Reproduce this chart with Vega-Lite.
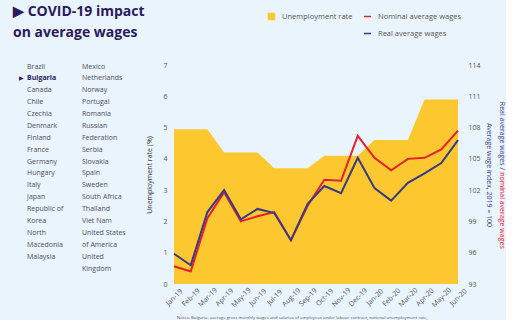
{
  "$schema": "https://vega.github.io/schema/vega-lite/v6.json",
  "background": "#eaf4fd",
  "padding": {"left": 13, "top": 4, "right": 0, "bottom": 0},
  "bounds": "flush",
  "spacing": 92,
  "config": {"view": {"stroke": null}, "font": "Open Sans"},
  "resolve": {"legend": {"fill": "independent", "stroke": "independent"}},
  "hconcat": [
    {
      "width": 55,
      "height": 202,
      "title": {"text": ["▶ COVID-19 impact", "on average wages"], "anchor": "start", "frame": "group", "dx": -14, "fontSize": 14, "fontWeight": "bold", "color": "#2b1b5c", "lineHeight": 21, "offset": 23},
      "data": {"values": [
        {"name": "Brazil", "col": 0, "line": 0, "sel": false},
        {"name": "Bulgaria", "col": 0, "line": 1, "sel": true},
        {"name": "Canada", "col": 0, "line": 2, "sel": false},
        {"name": "Chile", "col": 0, "line": 3, "sel": false},
        {"name": "Czechia", "col": 0, "line": 4, "sel": false},
        {"name": "Denmark", "col": 0, "line": 5, "sel": false},
        {"name": "Finland", "col": 0, "line": 6, "sel": false},
        {"name": "France", "col": 0, "line": 7, "sel": false},
        {"name": "Germany", "col": 0, "line": 8, "sel": false},
        {"name": "Hungary", "col": 0, "line": 9, "sel": false},
        {"name": "Italy", "col": 0, "line": 10, "sel": false},
        {"name": "Japan", "col": 0, "line": 11, "sel": false},
        {"name": "Republic of", "col": 0, "line": 12, "sel": false},
        {"name": "Korea", "col": 0, "line": 13, "sel": false},
        {"name": "North", "col": 0, "line": 14, "sel": false},
        {"name": "Macedonia", "col": 0, "line": 15, "sel": false},
        {"name": "Malaysia", "col": 0, "line": 16, "sel": false},
        {"name": "Mexico", "col": 1, "line": 0, "sel": false},
        {"name": "Netherlands", "col": 1, "line": 1, "sel": false},
        {"name": "Norway", "col": 1, "line": 2, "sel": false},
        {"name": "Portugal", "col": 1, "line": 3, "sel": false},
        {"name": "Romania", "col": 1, "line": 4, "sel": false},
        {"name": "Russian", "col": 1, "line": 5, "sel": false},
        {"name": "Federation", "col": 1, "line": 6, "sel": false},
        {"name": "Serbia", "col": 1, "line": 7, "sel": false},
        {"name": "Slovakia", "col": 1, "line": 8, "sel": false},
        {"name": "Spain", "col": 1, "line": 9, "sel": false},
        {"name": "Sweden", "col": 1, "line": 10, "sel": false},
        {"name": "South Africa", "col": 1, "line": 11, "sel": false},
        {"name": "Thailand", "col": 1, "line": 12, "sel": false},
        {"name": "Viet Nam", "col": 1, "line": 13, "sel": false},
        {"name": "United States", "col": 1, "line": 14, "sel": false},
        {"name": "of America", "col": 1, "line": 15, "sel": false},
        {"name": "United", "col": 1, "line": 16, "sel": false},
        {"name": "Kingdom", "col": 1, "line": 17, "sel": false}
      ]},
      "encoding": {
        "x": {"field": "col", "type": "quantitative", "scale": {"domain": [0, 1]}, "axis": null},
        "y": {"field": "line", "type": "quantitative", "scale": {"domain": [17, 0]}, "axis": null},
        "text": {"field": "name"}
      },
      "layer": [
        {"transform": [{"filter": "!datum.sel"}], "mark": {"type": "text", "align": "left", "baseline": "middle", "dy": 1.5, "fontSize": 7, "color": "#4d4d5c"}},
        {"transform": [{"filter": "datum.sel"}], "mark": {"type": "text", "align": "left", "baseline": "middle", "dy": 1.5, "fontSize": 7, "fontWeight": "bold", "color": "#2b1b5c"}},
        {"transform": [{"filter": "datum.sel"}], "mark": {"type": "text", "align": "right", "baseline": "middle", "dy": 1.5, "dx": -3, "fontSize": 6, "color": "#2b1b5c"}, "encoding": {"text": {"value": "▶"}}}
      ]
    },
    {
      "width": 284,
      "height": 219,
      "title": {"text": "Notes: Bulgaria: average gross monthly wages and salaries of employees under labour contract; national unemployment rate,", "orient": "bottom", "anchor": "start", "frame": "group", "fontSize": 4.3, "fontWeight": "normal", "color": "#555555", "offset": 8, "dx": 3},
      "data": {"values": [
        {"month": "Jan-19", "unemp": 4.95, "nominal": 94.7, "real": 95.9},
        {"month": "Feb-19", "unemp": 4.95, "nominal": 94.2, "real": 94.8},
        {"month": "Mar-19", "unemp": 4.95, "nominal": 99.3, "real": 99.9},
        {"month": "Apr-19", "unemp": 4.2, "nominal": 101.8, "real": 102.0},
        {"month": "May-19", "unemp": 4.2, "nominal": 99.0, "real": 99.2},
        {"month": "Jun-19", "unemp": 4.2, "nominal": 99.5, "real": 100.2},
        {"month": "Jul-19", "unemp": 3.7, "nominal": 99.9, "real": 99.8},
        {"month": "Aug-19", "unemp": 3.7, "nominal": 97.2, "real": 97.2},
        {"month": "Sep-19", "unemp": 3.7, "nominal": 100.5, "real": 100.7},
        {"month": "Oct-19", "unemp": 4.1, "nominal": 103.0, "real": 102.4},
        {"month": "Nov-19", "unemp": 4.1, "nominal": 102.9, "real": 101.7},
        {"month": "Dec-19", "unemp": 4.1, "nominal": 107.2, "real": 105.1},
        {"month": "Jan-20", "unemp": 4.6, "nominal": 105.1, "real": 102.2},
        {"month": "Feb-20", "unemp": 4.6, "nominal": 103.9, "real": 101.0},
        {"month": "Mar-20", "unemp": 4.6, "nominal": 105.0, "real": 102.7},
        {"month": "Apr-20", "unemp": 5.9, "nominal": 105.1, "real": 103.6},
        {"month": "May-20", "unemp": 5.9, "nominal": 105.9, "real": 104.6},
        {"month": "Jun-20", "unemp": 5.9, "nominal": 107.7, "real": 106.8}
      ]},
      "encoding": {
        "x": {"field": "month", "type": "ordinal", "sort": null, "scale": {"type": "point", "padding": 0},
          "axis": {"title": null, "labelAngle": -45, "labelAlign": "center", "labelBaseline": "middle", "labelPadding": 13, "ticks": false, "tickSize": 0, "domain": false, "labelFontSize": 7, "labelColor": "#555555"}}
      },
      "layer": [
        {
          "mark": {"type": "area", "color": "#fdc82f"},
          "encoding": {
            "y": {"field": "unemp", "type": "quantitative", "scale": {"domain": [0, 7]},
              "axis": {"orient": "left", "values": [0, 1, 2, 3, 4, 5, 6, 7], "title": "Unemployment rate (%)", "titleFontSize": 7, "titleFontWeight": "normal", "titleColor": "#333333", "titlePadding": 10, "labelFontSize": 7, "labelColor": "#555555", "labelPadding": 7, "grid": false, "ticks": false, "tickSize": 0, "domain": false}},
            "fill": {"datum": "Unemployment rate", "scale": {"range": ["#fdc82f"]},
              "legend": {"orient": "none", "legendX": 93, "legendY": -53, "title": null, "symbolType": "square", "symbolSize": 56, "labelFontSize": 7.5, "labelColor": "#555555", "labelOffset": 6}}
          }
        },
        {
          "mark": {"type": "line", "strokeWidth": 2},
          "encoding": {
            "y": {"field": "nominal", "type": "quantitative", "scale": {"domain": [93, 114]},
              "axis": {"orient": "right", "values": [93, 96, 99, 102, 105, 108, 111, 114], "title": ["\u200b\u00a0\u00a0\u00a0\u00a0\u00a0\u00a0\u00a0\u00a0\u00a0\u00a0\u00a0\u00a0\u00a0\u00a0\u00a0\u00a0\u00a0\u00a0\u00a0\u00a0\u00a0\u00a0\u00a0\u00a0\u00a0\u00a0\u00a0\u00a0\u00a0\u00a0\u00a0\u00a0\u00a0\u00a0\u00a0\u00a0\u00a0\u00a0\u00a0nominal average wages", "\u200b\u00a0\u00a0\u200b"], "titleFontSize": 7, "titleFontWeight": "normal", "titleColor": "#e5202e", "titlePadding": 5, "titleLineHeight": 13, "labelFontSize": 7, "labelOpacity": 0, "labelPadding": 10, "grid": false, "ticks": false, "tickSize": 0, "domain": false}},
            "stroke": {"datum": "Nominal average wages", "scale": {"domain": ["Nominal average wages", "Real average wages"], "range": ["#e5202e", "#3a3a84"]},
              "legend": {"orient": "none", "legendX": 189, "legendY": -53, "title": null, "symbolSize": 50, "symbolStrokeWidth": 1.5, "labelFontSize": 7.5, "labelColor": "#555555", "rowPadding": 9, "labelOffset": 6}}
          }
        },
        {
          "mark": {"type": "line", "strokeWidth": 2},
          "encoding": {
            "y": {"field": "real", "type": "quantitative", "scale": {"domain": [93, 114]},
              "axis": {"orient": "right", "values": [93, 96, 99, 102, 105, 108, 111, 114], "title": ["Real average wages /\u00a0\u00a0\u00a0\u00a0\u00a0\u00a0\u00a0\u00a0\u00a0\u00a0\u00a0\u00a0\u00a0\u00a0\u00a0\u00a0\u00a0\u00a0\u00a0\u00a0\u00a0\u00a0\u00a0\u00a0\u00a0\u00a0\u00a0\u00a0\u00a0\u00a0\u00a0\u00a0\u00a0\u00a0\u00a0\u00a0\u00a0\u00a0\u00a0\u00a0\u00a0\u00a0\u00a0\u200b", "Average wage index, 2019 = 100"], "titleFontSize": 7, "titleFontWeight": "normal", "titleColor": "#3d3d80", "titlePadding": 5, "titleLineHeight": 13, "labelFontSize": 7, "labelColor": "#555555", "labelPadding": 10, "grid": false, "ticks": false, "tickSize": 0, "domain": false}},
            "stroke": {"datum": "Real average wages"}
          }
        }
      ],
      "resolve": {"scale": {"y": "independent"}}
    }
  ]
}
